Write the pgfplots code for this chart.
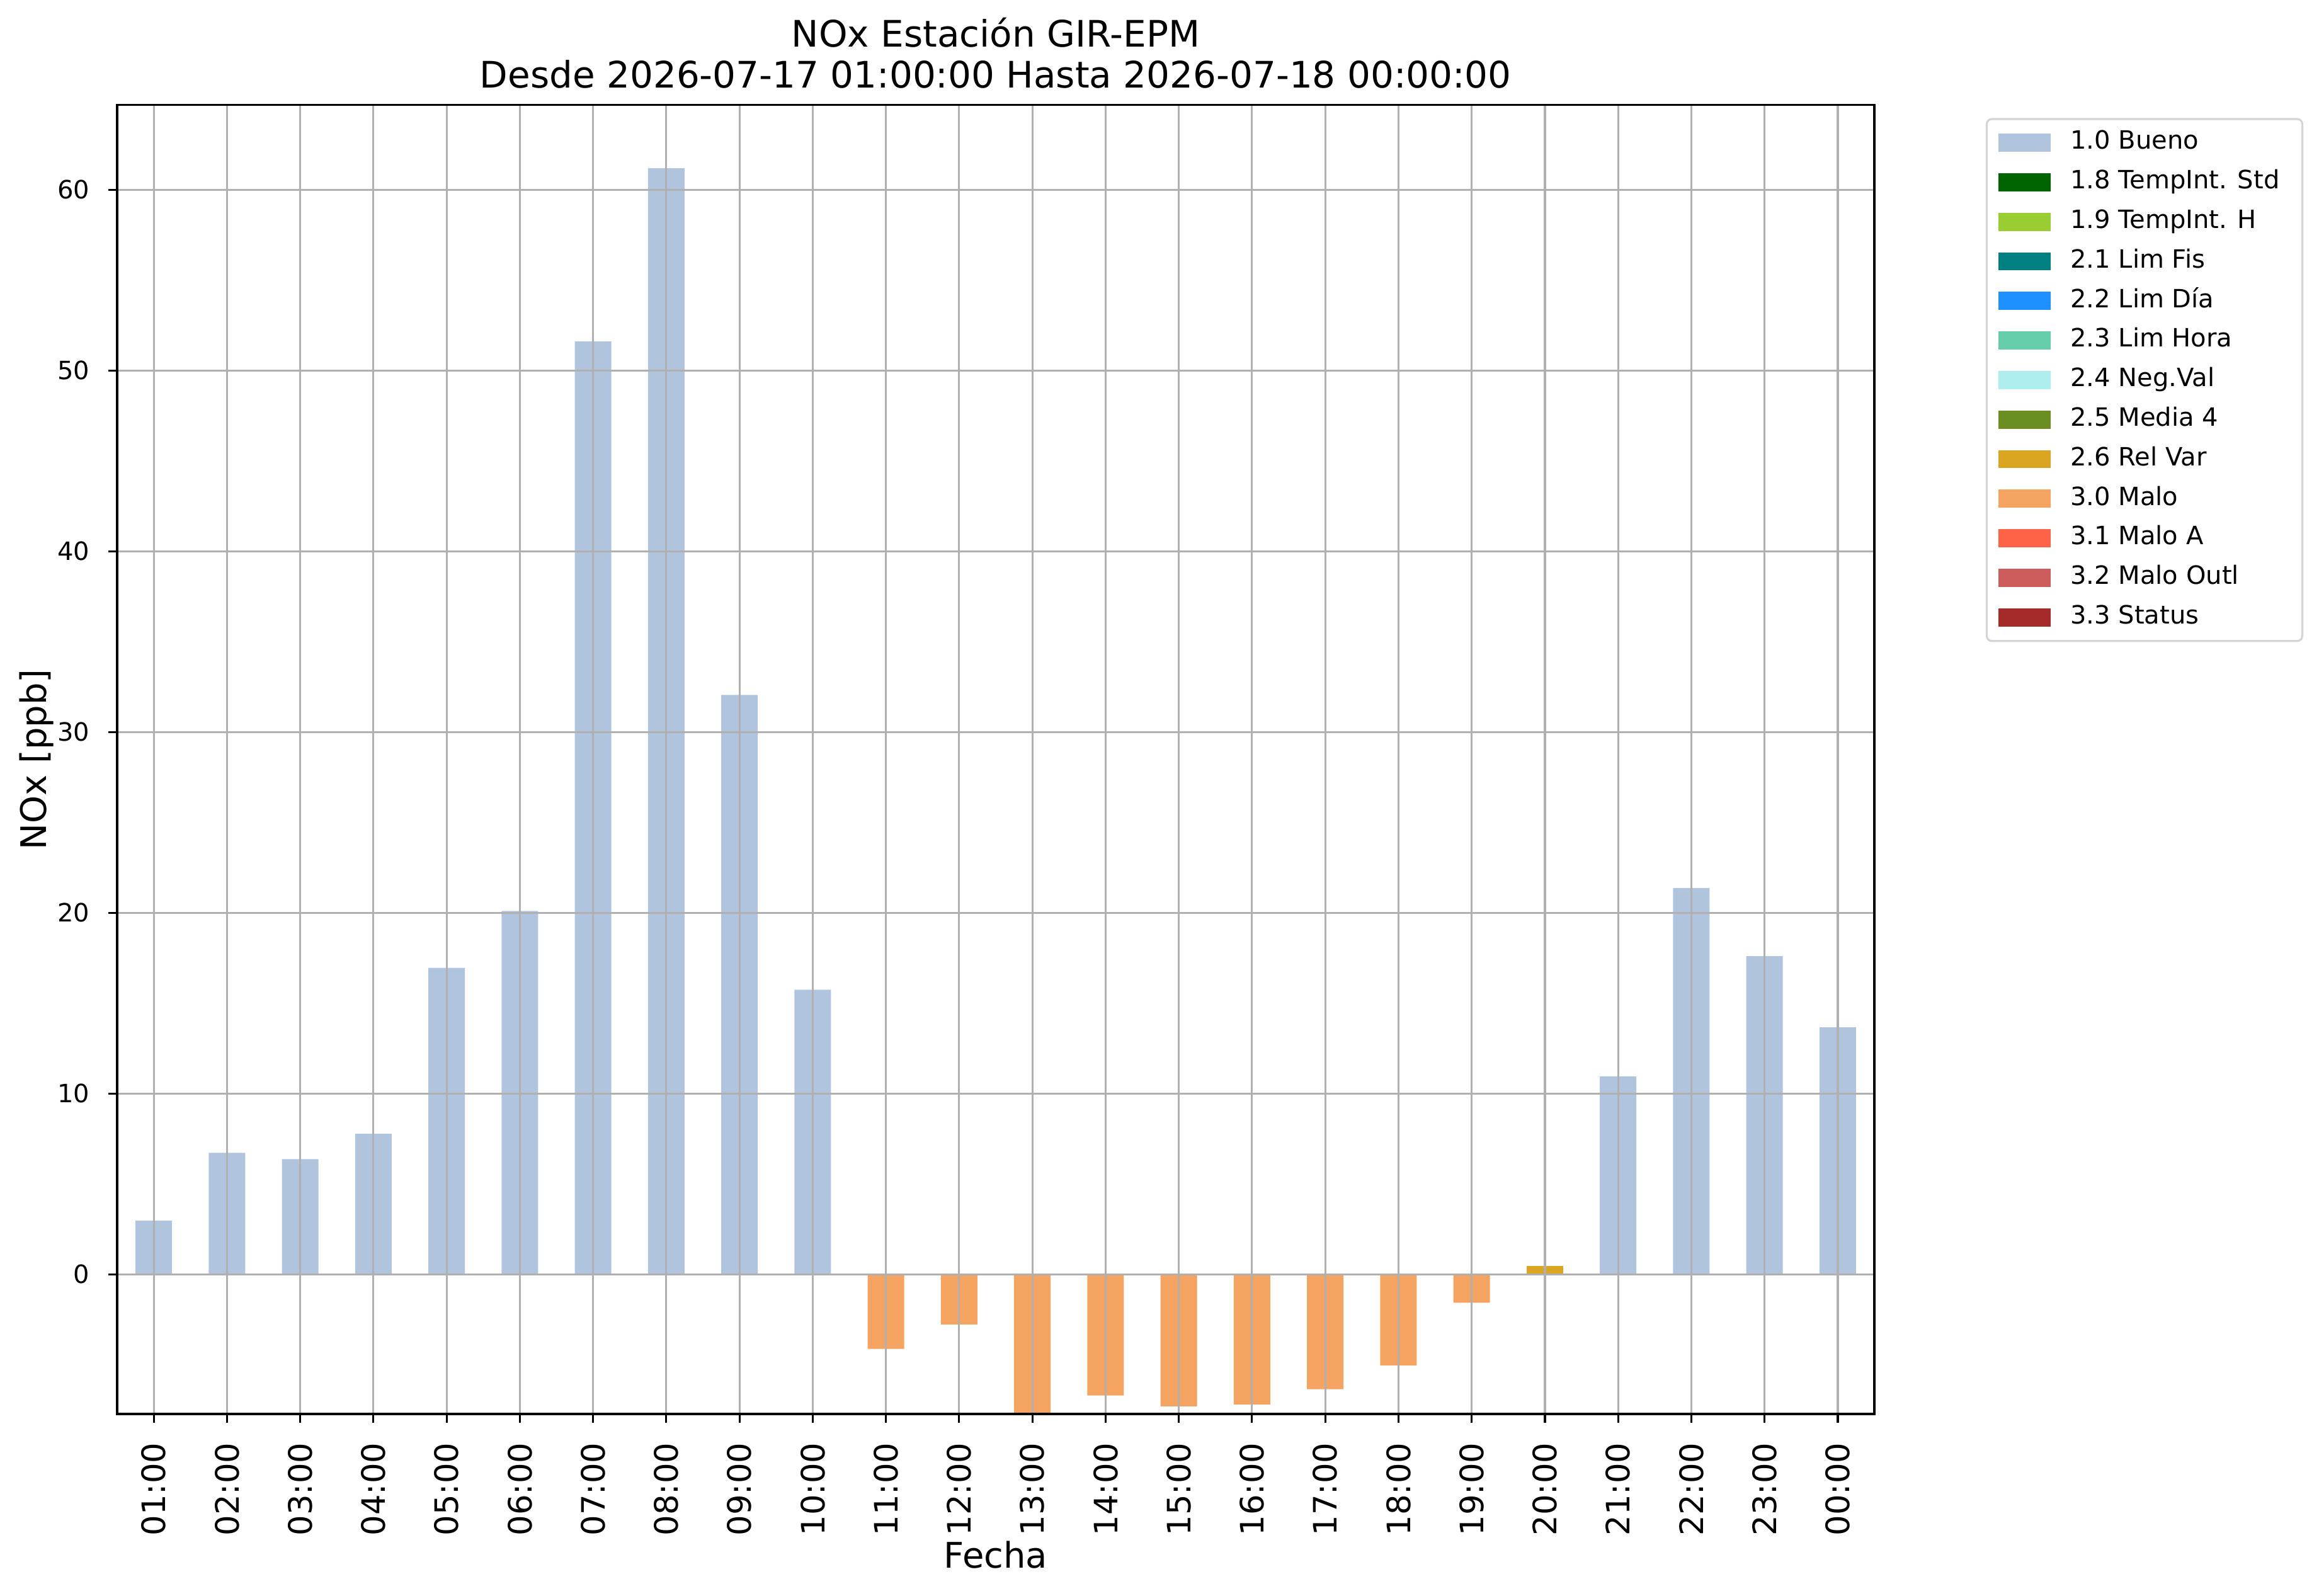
\documentclass[border=0pt]{standalone}
\usepackage{fontspec}
\setmainfont{DejaVu Sans}
\usepackage{pgfplots}
\pgfplotsset{compat=1.18}
\definecolor{cBueno}{HTML}{B0C4DE}
\definecolor{cTStd}{HTML}{006400}
\definecolor{cTH}{HTML}{9ACD32}
\definecolor{cFis}{HTML}{008080}
\definecolor{cDia}{HTML}{1E90FF}
\definecolor{cHora}{HTML}{66CDAA}
\definecolor{cNeg}{HTML}{AFEEEE}
\definecolor{cMedia}{HTML}{6B8E23}
\definecolor{cRel}{HTML}{DAA520}
\definecolor{cMalo}{HTML}{F4A460}
\definecolor{cMaloA}{HTML}{FF6347}
\definecolor{cOutl}{HTML}{CD5C5C}
\definecolor{cStatus}{HTML}{A52A2A}
\definecolor{cGrid}{HTML}{B0B0B0}
\definecolor{cFrame}{HTML}{D5D5D5}
\begin{document}
\begin{tikzpicture}
\useasboundingbox (-46.5pt,-72.25pt) rectangle (874pt,561.25pt);
\begin{axis}[
  at={(0pt,0pt)}, anchor=south west,
  scale only axis, width=697.5pt, height=519.6pt,
  xmin=-0.5, xmax=23.5, ymin=-7.73, ymax=64.69,
  axis on top,
  axis line style={black, line width=0.8pt},
  grid=major,
  major grid style={cGrid, line width=0.8pt},
  tick align=outside, tick pos=left,
  major tick length=3.5pt,
  tick style={black, line width=0.8pt},
  xtick={0,...,23},
  xticklabels={01:00,02:00,03:00,04:00,05:00,06:00,07:00,08:00,09:00,10:00,11:00,12:00,13:00,14:00,15:00,16:00,17:00,18:00,19:00,20:00,21:00,22:00,23:00,00:00},
  ytick={0,10,20,30,40,50,60},
  /pgf/number format/assume math mode=true,
  xticklabel style={rotate=90, anchor=east, inner sep=0pt, xshift=-7.75pt, font=\fontsize{12.8}{15}\selectfont},
  yticklabel style={anchor=east, inner sep=0pt, xshift=-7.2pt, font=\fontsize{10}{12}\selectfont},
  xlabel={Fecha},
  ylabel={NOx [ppb]},
  xlabel style={at={([yshift=-61.25pt]axis description cs:0.5,0)}, anchor=base, inner sep=0pt, font=\fontsize{14}{16}\selectfont},
  ylabel style={at={([xshift=-28pt]axis description cs:0,0.5)}, anchor=base, inner sep=0pt, font=\fontsize{14}{16}\selectfont},
  legend cell align=left,
  legend style={at={(axis description cs:1.0634,0.990)}, anchor=north west,
    draw=cFrame, line width=0.8pt, rounded corners=2pt,
    font=\fontsize{10}{12}\selectfont,
    inner xsep=4.5pt, inner ysep=4.7pt, row sep=6.3pt, column sep=8pt,
    nodes={inner sep=0pt, text height=7.3pt, text depth=2.1pt}},
  legend image code/.code={\fill[#1, draw=none, sharp corners] (0pt,-3.6pt) rectangle (20.75pt,3.6pt);},
]
\addplot[ybar, bar width=0.5, bar shift=0pt, draw=none, fill=cBueno] coordinates {
 (0,2.96) (1,6.72) (2,6.37) (3,7.77) (4,16.95) (5,20.1) (6,51.6) (7,61.19) (8,32.05) (9,15.74)
 (20,10.94) (21,21.37) (22,17.6) (23,13.66)};
\addlegendentry{1.0 Bueno}
\addlegendimage{fill=cTStd}\addlegendentry{1.8 TempInt. Std\hspace*{4.5pt}}
\addlegendimage{fill=cTH}\addlegendentry{1.9 TempInt. H}
\addlegendimage{fill=cFis}\addlegendentry{2.1 Lim Fis}
\addlegendimage{fill=cDia}\addlegendentry{2.2 Lim Día}
\addlegendimage{fill=cHora}\addlegendentry{2.3 Lim Hora}
\addlegendimage{fill=cNeg}\addlegendentry{2.4 Neg.Val}
\addlegendimage{fill=cMedia}\addlegendentry{2.5 Media 4}
\addplot[ybar, bar width=0.5, bar shift=0pt, draw=none, fill=cRel] coordinates {(19,0.46)};
\addlegendentry{2.6 Rel Var}
\addplot[ybar, bar width=0.5, bar shift=0pt, draw=none, fill=cMalo] coordinates {
 (10,-4.13) (11,-2.78) (12,-7.8) (13,-6.71) (14,-7.31) (15,-7.2) (16,-6.36) (17,-5.04) (18,-1.58)};
\addlegendentry{3.0 Malo}
\addlegendimage{fill=cMaloA}\addlegendentry{3.1 Malo A}
\addlegendimage{fill=cOutl}\addlegendentry{3.2 Malo Outl}
\addlegendimage{fill=cStatus}\addlegendentry{3.3 Status}
\end{axis}
\node[anchor=base, inner sep=0pt, font=\fontsize{14.5}{17}\selectfont] at (348.75pt,542.57pt) {NOx Estación GIR-EPM};
\node[anchor=base, inner sep=0pt, font=\fontsize{14.5}{17}\selectfont] at (348.75pt,526.3pt) {Desde 2026-07-17 01:00:00 Hasta 2026-07-18 00:00:00};
\end{tikzpicture}
\end{document}
